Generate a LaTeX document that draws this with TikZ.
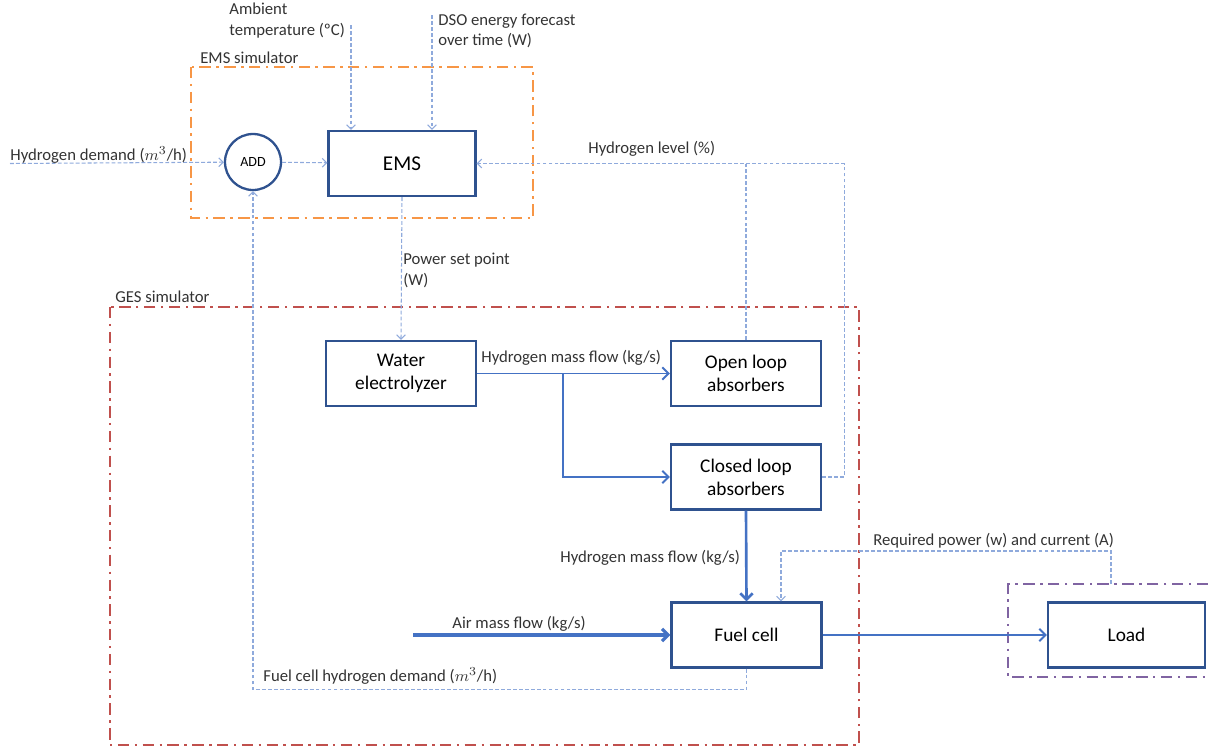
\documentclass[tikz,border=0pt]{standalone}
\usepackage{fontspec}
\setmainfont{Carlito}
\usetikzlibrary{arrows.meta}

\definecolor{boxblue}{RGB}{47,82,143}
\definecolor{flowblue}{RGB}{68,114,196}
\definecolor{sigblue}{RGB}{143,170,220}
\definecolor{emsorange}{RGB}{247,150,70}
\definecolor{gesred}{RGB}{192,80,77}
\definecolor{loadpurple}{RGB}{128,100,162}

\tikzset{
	blk/.style={draw=boxblue, line width=1.3pt, minimum width=3cm, minimum height=1.3cm,
		align=center, font=\fontsize{11}{13}\selectfont},
	flow/.style={draw=flowblue, line width=1.1pt, -{Straight Barb[length=3.5pt,width=7pt]}},
	sig/.style={draw=sigblue, line width=0.6pt, dash pattern=on 2.2pt off 1.2pt,
		-{Straight Barb[length=2.5pt,width=5pt]}},
	frame/.style={line width=1.4pt, dash pattern=on 6.5pt off 3.1pt on 1.4pt off 3.1pt},
	lbl/.style={font=\fontsize{9.5}{11.5}\selectfont, inner sep=0pt, align=left, text=black!80}
}

\begin{document}
\begin{tikzpicture}[x=0.02cm, y=-0.02cm]
	\useasboundingbox (0,0) rectangle (1208,747);
	
	% blocks
	\node[circle, draw=boxblue, line width=1.3pt, minimum size=1.12cm, font=\fontsize{8}{9}\selectfont] (add) at (253,162) {ADD};
	\node[blk, minimum width=2.94cm, font=\fontsize{12}{13}\selectfont] (ems) at (402,163.5) {EMS};
	\node[blk] (we) at (401,373.5) {Water\\electrolyzer};
	\node[blk] (ola) at (746,373.5) {Open loop\\absorbers};
	\node[blk] (cla) at (746,477) {Closed loop\\absorbers};
	\node[blk] (fc) at (746.5,635) {Fuel cell};
	\node[blk, minimum width=3.14cm] (load) at (1126.5,635) {Load};
	
	% frames
	\draw[frame, emsorange] (191,67) rectangle (533,218);
	\draw[frame, gesred] (110,307) rectangle (859,745);
	\draw[frame, loadpurple] (1208,584) -- (1008,584) -- (1008,677) -- (1208,677);
	\node[lbl, anchor=west] (emsl) at (200,58) {EMS simulator};
	\node[lbl, anchor=west] (gesl) at (115,297) {GES simulator};
	
	% free ends
	\coordinate (hd) at (10,163.5);
	\coordinate (amb) at (351,25);
	\coordinate (dso) at (432,15);
	\coordinate (br) at (563,373.5);
	\coordinate (air) at (413,635);
	\coordinate (rp) at (1111,584);
	
	% signals
	\draw[sig] (hd) -- (add);
	\draw[sig] (add) -- (ems);
	\draw[sig] (amb) -- (amb |- ems.north);
	\draw[sig] (dso) -- (dso |- ems.north);
	\draw[sig] (ems.south) -- (we.north);
	\draw[sig] (cla.east) -- ++(22,0) |- (ems.east);
	\draw[sig, -] (ola.north) -- (ola.north |- ems.east);
	\draw[sig] (fc.south) -- ++(0,21) -| (add.south);
	\draw[sig] (rp) -- ++(0,-33) -| ([xshift=0.69cm]fc.north);
	
	% flows
	\draw[flow] (we.east) -- (ola.west);
	\draw[flow] (br) |- (cla.west);
	\draw[flow, line width=1.5pt] (cla.south) -- (fc.north);
	\draw[flow, line width=1.8pt] (air) -- (fc.west);
	\draw[flow] (fc.east) -- (load.west);
	
	% labels
	\node[lbl, anchor=north west] (ambl) at (229,3) {Ambient\\temperature (ºC)};
	\node[lbl, anchor=north west] (dsol) at (438,14) {DSO energy forecast\\over time (W)};
	\node[lbl, anchor=west] (hdl) at (10,155) {Hydrogen demand (\(m^3\)/h)};
	\node[lbl, anchor=west] (hll) at (588,149) {Hydrogen level (\%)};
	\node[lbl, anchor=north west] (psl) at (403,253) {Power set point\\(W)};
	\node[lbl, anchor=west] (mf1) at (481,358) {Hydrogen mass flow (kg/s)};
	\node[lbl, anchor=west] (mf2) at (560,558) {Hydrogen mass flow (kg/s)};
	\node[lbl, anchor=west] (airl) at (452,624) {Air mass flow (kg/s)};
	\node[lbl, anchor=west] (fcl) at (263,676) {Fuel cell hydrogen demand (\(m^3\)/h)};
	\node[lbl, anchor=west] (rpl) at (873,541) {Required power (w) and current (A)};
\end{tikzpicture}
\end{document}
